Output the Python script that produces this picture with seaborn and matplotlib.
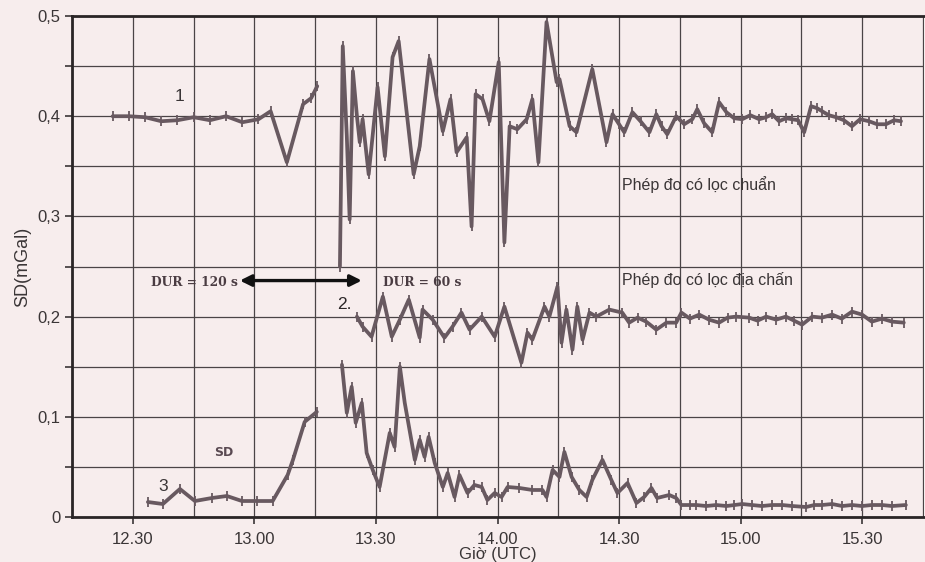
import numpy as np
import pandas as pd
import matplotlib
matplotlib.use("Agg")
import matplotlib.pyplot as plt
import seaborn as sns
from matplotlib.ticker import MultipleLocator, FuncFormatter

# thời gian = phút sau 12:00 (UTC)
# Đường 1 - phép đo có lọc chuẩn
t1_a = [25, 29, 33, 37, 41, 45, 49, 53, 57, 61, 64, 68, 72, 74, 75.5]
sd1_a = [0.400, 0.400, 0.399, 0.395, 0.396, 0.399, 0.396, 0.400, 0.394, 0.397,
         0.405, 0.354, 0.412, 0.418, 0.430]
t1_b = [81.1, 81.8, 82.8, 83.5, 84.3, 85.3, 86.0, 86.7, 88.2, 90.4, 92.2, 94.1, 95.6,
        99.3, 100.8, 103.2, 106.5, 108.4, 109.9, 112.4, 113.6, 114.6, 116.3, 118.0,
        120.3, 121.7, 123.0, 124.9, 127.2, 128.6, 130.1, 132.1, 134.6, 135.3, 137.8,
        139.5, 143.4, 146.9, 148.4, 150.0, 151.3, 153.3, 155.3, 157.5, 159.2, 160.5,
        161.9, 164.1, 166.1, 168.1, 169.3, 171.0, 173.0, 174.7, 176.5, 178.4, 180.4,
        182.4, 184.6, 186.3, 187.8, 189.5, 191.2, 192.7, 194.2, 195.7, 197.4, 198.9,
        200.1, 201.8, 203.6, 205.5, 207.5, 209.5, 211.7, 213.7, 215.9, 217.9, 219.6]
sd1_b = [0.250, 0.470, 0.380, 0.297, 0.445, 0.400, 0.374, 0.397, 0.342, 0.429, 0.360,
         0.459, 0.475, 0.342, 0.370, 0.457, 0.385, 0.417, 0.364, 0.379, 0.290, 0.422,
         0.417, 0.395, 0.454, 0.274, 0.390, 0.387, 0.397, 0.417, 0.354, 0.494, 0.434,
         0.437, 0.390, 0.384, 0.447, 0.374, 0.402, 0.392, 0.384, 0.404, 0.395, 0.384,
         0.402, 0.390, 0.382, 0.400, 0.392, 0.397, 0.407, 0.393, 0.384, 0.414, 0.404,
         0.398, 0.397, 0.401, 0.397, 0.399, 0.402, 0.395, 0.398, 0.397, 0.396, 0.384,
         0.410, 0.408, 0.405, 0.401, 0.399, 0.396, 0.390, 0.397, 0.395, 0.392, 0.392,
         0.396, 0.395]

# Đường 2 - phép đo có lọc địa chấn
t2 = [85.3, 86.7, 88.9, 91.7, 93.9, 95.9, 98.1, 100.8, 101.5, 104.0, 106.9, 108.9,
      111.1, 113.1, 116.1, 119.3, 121.7, 125.9, 127.4, 128.6, 131.6, 132.8, 134.8,
      135.8, 137.0, 138.5, 139.7, 141.0, 142.7, 144.4, 147.6, 150.8, 152.5, 154.6,
      156.7, 159.2, 161.7, 164.1, 165.4, 167.5, 169.8, 172.2, 174.7, 176.8, 178.9,
      182.1, 184.2, 186.3, 188.8, 191.2, 193.2, 195.2, 197.7, 200.1, 202.6, 205.0,
      207.5, 210.0, 212.4, 214.9, 217.4, 220.3]
sd2 = [0.200, 0.190, 0.180, 0.220, 0.180, 0.197, 0.217, 0.179, 0.207, 0.197, 0.179,
       0.190, 0.204, 0.187, 0.200, 0.180, 0.210, 0.154, 0.184, 0.177, 0.210, 0.200,
       0.230, 0.174, 0.207, 0.167, 0.210, 0.177, 0.204, 0.200, 0.207, 0.204, 0.194,
       0.199, 0.195, 0.187, 0.194, 0.194, 0.204, 0.198, 0.202, 0.197, 0.194, 0.199,
       0.200, 0.199, 0.196, 0.200, 0.197, 0.200, 0.196, 0.192, 0.200, 0.199, 0.202,
       0.198, 0.205, 0.202, 0.195, 0.198, 0.195, 0.194]

# Đường 3 - SD
t3_a = [33.7, 37.4, 41.6, 45.3, 49.5, 53.2, 56.9, 60.6, 64.5, 68.2, 69.5, 72.4, 75.4]
sd3_a = [0.015, 0.013, 0.028, 0.016, 0.019, 0.021, 0.016, 0.016, 0.016, 0.042, 0.057,
         0.095, 0.105]
t3_b = [81.6, 82.8, 84.0, 85.0, 86.5, 87.7, 89.2, 90.9, 93.4, 94.6, 95.9, 97.1, 99.6,
        100.8, 102.0, 103.0, 104.5, 106.5, 107.7, 109.4, 110.6, 112.6, 114.3, 116.1,
        117.5, 119.3, 121.0, 122.5, 125.4, 128.6, 131.1, 132.1, 133.6, 135.3, 136.5,
        138.3, 140.2, 142.0, 143.4, 145.9, 148.1, 149.6, 152.1, 154.3, 156.2, 158.0,
        159.4, 162.4, 164.1, 165.4, 167.5, 169.1, 171.5, 174.0, 176.5, 178.5, 180.4,
        182.8, 185.3, 187.8, 190.3, 192.8, 196.2, 198.2, 200.1, 202.6, 205.1, 207.5,
        210.0, 212.4, 214.9, 217.4, 220.8]
sd3_b = [0.152, 0.104, 0.130, 0.094, 0.114, 0.064, 0.047, 0.030, 0.084, 0.070, 0.150,
         0.114, 0.057, 0.077, 0.060, 0.080, 0.054, 0.030, 0.044, 0.020, 0.042, 0.024,
         0.032, 0.030, 0.017, 0.024, 0.020, 0.030, 0.029, 0.027, 0.027, 0.020, 0.047,
         0.040, 0.065, 0.040, 0.027, 0.020, 0.037, 0.057, 0.037, 0.024, 0.034, 0.014,
         0.020, 0.029, 0.019, 0.022, 0.019, 0.012, 0.012, 0.012, 0.011, 0.012, 0.011,
         0.012, 0.013, 0.012, 0.011, 0.012, 0.012, 0.011, 0.010, 0.012, 0.012, 0.013,
         0.011, 0.012, 0.011, 0.012, 0.012, 0.011, 0.012]

nen = "#f7eded"
mau_duong = "#685960"
mau_luoi = "#4a4446"

sns.set_theme(style="ticks")
plt.rcParams["font.family"] = ["Liberation Sans", "DejaVu Sans"]

fig = plt.figure(figsize=(9.25, 5.62), dpi=100, facecolor=nen)
ax = fig.add_axes([0.078, 0.080, 0.921, 0.8915], facecolor=nen)

for t, sd in [(t1_a, sd1_a), (t1_b, sd1_b), (t2, sd2), (t3_a, sd3_a), (t3_b, sd3_b)]:
    df = pd.DataFrame({"t": t, "sd": sd})
    sns.lineplot(data=df, x="t", y="sd", ax=ax, color=mau_duong, lw=2.7,
                 marker="|", markersize=7.5, markeredgewidth=1.3,
                 markeredgecolor=mau_duong, estimator=None, sort=False)

ax.set_xlim(15, 225.3)
ax.set_ylim(0, 0.5)

ax.xaxis.set_major_locator(MultipleLocator(30))
ax.xaxis.set_minor_locator(MultipleLocator(15))
ax.yaxis.set_major_locator(MultipleLocator(0.1))
ax.yaxis.set_minor_locator(MultipleLocator(0.05))

def nhan_gio(x, pos):
    h = 12 + int(x) // 60
    m = int(x) % 60
    return f"{h}.{m:02d}"

def nhan_sd(y, pos):
    if abs(y) < 1e-9:
        return "0"
    return f"{y:.1f}".replace(".", ",")

ax.xaxis.set_major_formatter(FuncFormatter(nhan_gio))
ax.yaxis.set_major_formatter(FuncFormatter(nhan_sd))
ax.grid(which="both", color=mau_luoi, lw=0.9)
ax.set_axisbelow(True)

for s in ["left", "bottom", "top"]:
    ax.spines[s].set_color("#2a2526")
    ax.spines[s].set_linewidth(2.0)
ax.spines["right"].set_visible(False)

ax.tick_params(axis="both", which="major", labelsize=12, colors="#3a3536",
               length=5, width=1.2, labelcolor="#3a3536")
ax.tick_params(axis="y", which="minor", length=5, width=1.2, colors="#3a3536")
ax.tick_params(axis="x", which="minor", length=0)
ax.tick_params(axis="x", pad=6)

ax.set_xlabel("Giờ (UTC)", fontsize=12, color="#3a3536", labelpad=0)
ax.set_ylabel("SD(mGal)", fontsize=13, color="#3a3536", labelpad=4)

# nhãn trên hình
ax.text(41.6, 0.420, "1", fontsize=12.5, color="#3a3536", ha="center", va="center")
ax.text(82.3, 0.212, "2.", fontsize=12.5, color="#2a2526", ha="center", va="center")
ax.text(37.4, 0.030, "3", fontsize=12.5, color="#3a3536", ha="center", va="center")
ax.text(52.5, 0.064, "SD", fontsize=9, fontweight="bold", color="#5a4a52",
        ha="center", va="center", family="DejaVu Sans")
ax.text(150.8, 0.332, "Phép đo có lọc chuẩn", fontsize=11.5, color="#3a3536",
        ha="left", va="center")
ax.text(150.8, 0.237, "Phép đo có lọc địa chấn", fontsize=11.5, color="#3a3536",
        ha="left", va="center")

ax.text(34.5, 0.234, "DUR = 120 s", fontsize=8.8, fontweight="bold", color="#4a3c42",
        ha="left", va="center", family="DejaVu Serif")
ax.text(91.7, 0.234, "DUR = 60 s", fontsize=8.8, fontweight="bold", color="#4a3c42",
        ha="left", va="center", family="DejaVu Serif")
ax.annotate("", xy=(56.4, 0.236), xytext=(86.5, 0.236),
            arrowprops=dict(arrowstyle="<|-|>", color="#111111", lw=2.4,
                            mutation_scale=17, shrinkA=0, shrinkB=0))

fig.savefig("out.png", dpi=100, facecolor=nen)
